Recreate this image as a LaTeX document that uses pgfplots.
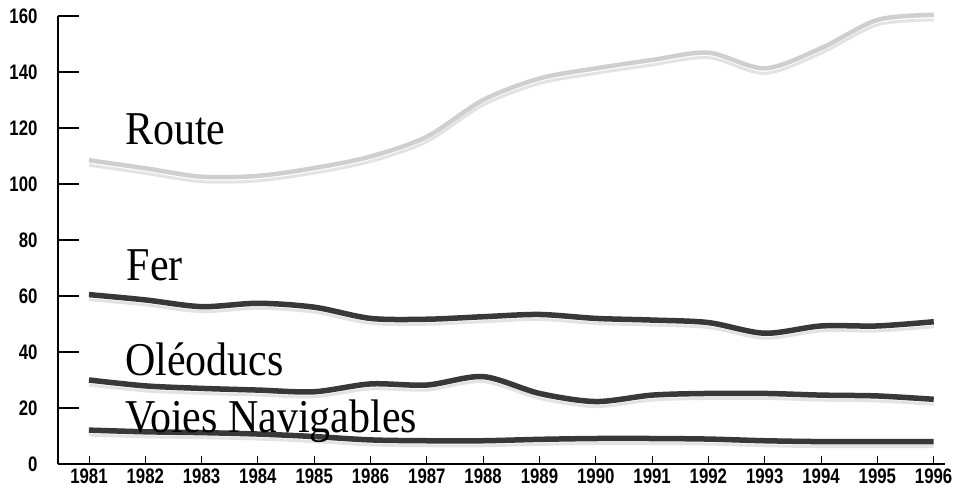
\documentclass[border=0pt]{standalone}
\usepackage{fontspec}
\setmainfont{Liberation Serif}
\newfontfamily\tickfont{Liberation Sans Bold}[FakeStretch=0.8]
\usepackage{pgfplots}
\pgfplotsset{compat=1.18}
\tikzset{lbl/.style={anchor=base west, inner sep=0, font=\fontsize{42}{42}\selectfont}}
\pgfplotstableread{
year route fer oleo voies
1981 108.5 60.5 30.0 12.1
1982 105.6 58.6 27.9 11.5
1983 102.6 56.2 27.0 11.2
1984 102.9 57.4 26.4 10.7
1985 105.7 56.0 25.8 9.8
1986 109.8 52.0 28.6 8.6
1987 116.9 51.7 28.2 8.3
1988 130.0 52.6 31.2 8.3
1989 137.7 53.4 25.2 8.8
1990 141.3 52.0 22.3 9.1
1991 144.3 51.4 24.6 9.1
1992 146.9 50.5 25.2 8.9
1993 141.3 46.7 25.2 8.3
1994 148.5 49.3 24.6 8.0
1995 158.6 49.3 24.3 8.0
1996 160.4 50.8 23.1 8.0
}\data
\begin{document}
\begin{tikzpicture}
\path[use as bounding box] (0,0) rectangle (959pt,494pt);
\begin{axis}[
  at={(58pt,30pt)}, anchor=south west,
  scale only axis, width=887pt, height=448pt,
  xmin=1980.45, xmax=1996.2, ymin=0, ymax=160,
  axis x line=bottom, axis y line=left,
  axis line style={-, line width=2.6pt, black},
  tick align=inside,
  xtick={1981,...,1996},
  minor xtick={1981,...,1996},
  ytick={0,20,...,160},
  major tick length=21pt, minor tick length=8pt,
  x tick style={draw=none},
  minor x tick style={draw=black, line width=0.9pt},
  y tick style={draw=black, line width=1.4pt},
  /pgf/number format/assume math mode=true,
  /pgf/number format/1000 sep={},
  ticklabel style={font=\tickfont\fontsize{21}{21}\selectfont, black},
  yticklabel style={xshift=-17pt},
  xticklabel style={yshift=-4pt, inner sep=1pt},
  clip=false,
]
\addplot[gray!22, line width=3pt, smooth, tension=0.5, yshift=-5pt] table[x=year,y=route] {\data};
\addplot[gray!22, line width=3pt, smooth, tension=0.5, yshift=-5pt] table[x=year,y=fer] {\data};
\addplot[gray!22, line width=3pt, smooth, tension=0.5, yshift=-5pt] table[x=year,y=oleo] {\data};
\addplot[gray!22, line width=3pt, smooth, tension=0.5, yshift=-5pt] table[x=year,y=voies] {\data};
\addplot[gray!38, line width=4.5pt, smooth, tension=0.5] table[x=year,y=route] {\data};
\addplot[black!78, line width=5.5pt, smooth, tension=0.5] table[x=year,y=fer] {\data};
\addplot[black!78, line width=5.5pt, smooth, tension=0.5] table[x=year,y=oleo] {\data};
\addplot[black!78, line width=5.5pt, smooth, tension=0.5] table[x=year,y=voies] {\data};
\node[lbl] at (axis cs:1981.64,114) {\scalebox{1}[1.12]{Route}};
\node[lbl] at (axis cs:1981.67,65.5) {\scalebox{1}[1.12]{Fer}};
\node[lbl] at (axis cs:1981.64,31.5) {\scalebox{1}[1.12]{Oléoducs}};
\node[lbl] at (axis cs:1981.64,11.2) {\scalebox{1}[1.12]{Voies Navigables}};
\end{axis}
\end{tikzpicture}
\end{document}
